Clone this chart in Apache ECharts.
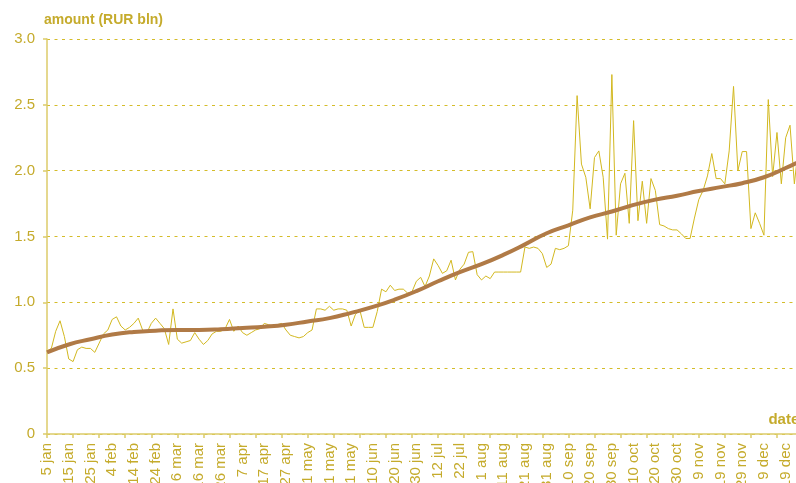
<!DOCTYPE html>
<html><head><meta charset="utf-8">
<script src="https://cdn.jsdelivr.net/npm/echarts@6/dist/echarts.min.js"></script>
<style>html,body{margin:0;padding:0;background:#fff}#c{width:796px;height:483px}</style>
</head><body><div id="c"></div>
<script>
// tick labels (one every 5 categories)
const tickLabels = ['5 jan','15 jan','25 jan','4 feb','14 feb','24 feb','6 mar','16 mar','26 mar','7 apr','17 apr','27 apr','11 may','21 may','31 may','10 jun','20 jun','30 jun','12 jul','22 jul','1 aug','11 aug','21 aug','31 aug','10 sep','20 sep','30 sep','10 oct','20 oct','30 oct','9 nov','19 nov','29 nov','9 dec','19 dec'];
// daily-ish amounts (RUR bln)
const amounts = [
0.63,0.65,0.78,0.86,0.74,0.57,0.55,0.64,0.66,0.65,
0.65,0.62,0.69,0.76,0.79,0.87,0.89,0.82,0.79,0.81,
0.84,0.88,0.79,0.77,0.84,0.88,0.84,0.80,0.68,0.95,
0.72,0.69,0.70,0.71,0.77,0.72,0.68,0.71,0.76,0.78,
0.78,0.80,0.87,0.78,0.82,0.77,0.75,0.77,0.79,0.80,
0.84,0.83,0.82,0.83,0.84,0.79,0.75,0.74,0.73,0.74,
0.77,0.79,0.95,0.95,0.94,0.97,0.94,0.95,0.95,0.94,
0.82,0.91,0.94,0.81,0.81,0.81,0.93,1.10,1.08,1.13,
1.09,1.10,1.10,1.07,1.08,1.16,1.19,1.12,1.20,1.33,
1.28,1.22,1.24,1.32,1.17,1.25,1.29,1.38,1.385,1.21,
1.17,1.20,1.18,1.23,1.23,1.23,1.23,1.23,1.23,1.23,
1.42,1.41,1.42,1.41,1.37,1.265,1.29,1.41,1.40,1.41,
1.43,1.70,2.57,2.05,1.95,1.71,2.10,2.15,1.95,1.48,
2.73,1.51,1.90,1.98,1.60,2.38,1.62,1.92,1.60,1.94,
1.85,1.59,1.58,1.56,1.55,1.55,1.52,1.485,1.485,1.64,
1.78,1.85,1.96,2.13,1.94,1.94,1.90,2.15,2.64,2.00,
2.145,2.145,1.56,1.68,1.60,1.51,2.54,1.955,2.29,1.90,
2.25,2.345,1.90,2.20,2.15,2.10];
// trend values, one per label date (every 5 categories), last at final category
const trendValues = [0.62,0.68,0.72,0.755,0.775,0.785,0.79,0.79,0.795,0.805,
0.815,0.83,0.855,0.88,0.92,0.965,1.02,1.085,1.16,1.23,
1.29,1.36,1.44,1.525,1.585,1.645,1.69,1.74,1.78,1.81,
1.845,1.875,1.905,1.95,2.02,2.10];
const yTicks = [0,0.5,1.0,1.5,2.0,2.5,3.0];

const categories = amounts.map((_, i) => (i % 5 === 0 && tickLabels[i / 5]) ? tickLabels[i / 5] : '');
const trendData = trendValues.map((v, k) => [Math.min(k * 5, amounts.length - 1), v]);

const txt = '#c5ab2c';
const axisCol = '#dccb6a';
const chart = echarts.init(document.getElementById('c'), null, {renderer: 'canvas'});
chart.setOption({
  animation: false,
  backgroundColor: '#fff',
  textStyle: {fontFamily: 'Liberation Sans, Arial, sans-serif'},
  grid: {left: 47, top: 39, bottom: 49, width: 760.4, containLabel: false, outerBoundsMode: 'none'},
  xAxis: {
    type: 'category', data: categories, boundaryGap: false,
    name: 'date', nameLocation: 'end', nameGap: -39,
    nameTextStyle: {color: txt, fontWeight: 'bold', fontSize: 15, align: 'left', verticalAlign: 'bottom', padding: [0,0,7,0]},
    axisLine: {lineStyle: {color: axisCol, width: 1.5}},
    axisTick: {interval: 5, length: 4, lineStyle: {color: axisCol, width: 1.5}},
    axisLabel: {interval: 4, rotate: 90, margin: 9, color: txt, fontSize: 15},
    splitLine: {show: false}
  },
  yAxis: {
    type: 'value', min: yTicks[0], max: yTicks[yTicks.length - 1], interval: 0.5,
    name: 'amount (RUR bln)', nameLocation: 'end', nameGap: 19,
    nameTextStyle: {color: txt, fontWeight: 'bold', fontSize: 14, align: 'left', verticalAlign: 'middle', padding: [0,0,0,-3]},
    axisLine: {show: true, lineStyle: {color: axisCol, width: 1.5}},
    axisTick: {show: true, length: 4, lineStyle: {color: axisCol, width: 1.5}},
    axisLabel: {margin: 12, color: txt, fontSize: 15, formatter: v => v === 0 ? '0' : v.toFixed(1)},
    splitLine: {show: true, lineStyle: {color: '#d4bc2a', type: [3, 4.5], width: 1}}
  },
  series: [
    {type: 'line', data: amounts, showSymbol: false, lineStyle: {color: '#d2b820', width: 1}, z: 2},
    {type: 'line', data: trendData, showSymbol: false, smooth: true, lineStyle: {color: '#b07a46', width: 4}, z: 3}
  ]
});
</script></body></html>
